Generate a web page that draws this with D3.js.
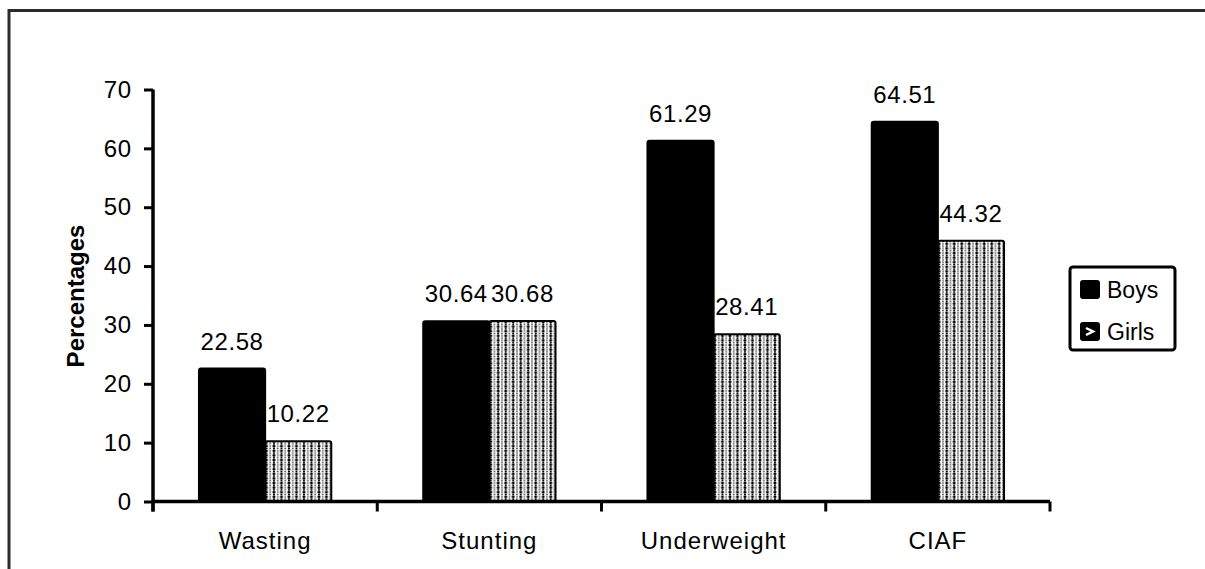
<!DOCTYPE html>
<html>
<head>
<meta charset="utf-8">
<script src="https://cdn.jsdelivr.net/npm/d3@7/dist/d3.min.js"></script>
<style>
  html, body { margin: 0; padding: 0; background: #fff; }
  svg { display: block; }
  text { font-family: "Liberation Sans", Arial, sans-serif; fill: #000; }
</style>
</head>
<body>
<svg id="chart" width="1205" height="569"></svg>
<script>
// Nutritional status by sex (percentages)
const categories = ["Wasting", "Stunting", "Underweight", "CIAF"];
const seriesNames = ["Boys", "Girls"];
const boys = [22.58, 30.64, 61.29, 64.51];
const girls = [10.22, 30.68, 28.41, 44.32];
const yTicks = [0, 10, 20, 30, 40, 50, 60, 70];

const svg = d3.select("#chart");

// dotted fill used for the Girls series
const defs = svg.append("defs");
const pat = defs.append("pattern")
  .attr("id", "dots")
  .attr("patternUnits", "userSpaceOnUse")
  .attr("width", 7.5).attr("height", 4.6);
pat.append("rect").attr("width", 7.5).attr("height", 4.6).attr("fill", "#fff");
[[0, 0], [7.5, 0], [0, 4.6], [7.5, 4.6]].forEach(([cx, cy]) =>
  pat.append("circle").attr("cx", cx).attr("cy", cy).attr("r", 1.5).attr("fill", "#000"));
pat.append("circle").attr("cx", 3.75).attr("cy", 2.3).attr("r", 0.9).attr("fill", "#555");
pat.append("path").attr("d", "M0,2.3 H1 M6.5,2.3 H7.5 M3.75,0 V0.6 M3.75,4 V4.6")
  .attr("stroke", "#000").attr("stroke-width", 1);

// outer frame (top and left edges)
svg.append("path")
  .attr("d", "M9,569 V10.5 H1205")
  .attr("fill", "none").attr("stroke", "#2b2b2b").attr("stroke-width", 3);

const x0 = d3.scaleBand().domain(categories).range([153, 1050])
  .paddingInner(0.41).paddingOuter(0.205);
const x1 = d3.scaleBand().domain(seriesNames).range([0, x0.bandwidth()]);
const y = d3.scaleLinear().domain([0, 70]).range([501.5, 89.5]);

const rows = categories.map((c, i) => ({ cat: c, vals: [
  { name: "Boys", v: boys[i] }, { name: "Girls", v: girls[i] } ] }));

// bars
const groups = svg.append("g").selectAll("g").data(rows).join("g")
  .attr("transform", d => `translate(${x0(d.cat)},0)`);

groups.selectAll("rect").data(d => d.vals).join("rect")
  .attr("x", d => x1(d.name))
  .attr("y", d => y(d.v))
  .attr("width", x1.bandwidth())
  .attr("height", d => y(0) - y(d.v))
  .attr("rx", 2)
  .attr("fill", d => d.name === "Boys" ? "#000" : "url(#dots)")
  .attr("stroke", "#000").attr("stroke-width", 2);

// value labels
groups.selectAll("text").data(d => d.vals).join("text")
  .attr("x", d => x1(d.name) + x1.bandwidth() / 2)
  .attr("y", d => y(d.v) - 19)
  .attr("text-anchor", "middle")
  .attr("font-size", 24)
  .attr("letter-spacing", 0.6)
  .text(d => d.v.toFixed(2));

// y axis
const yAxis = svg.append("g").attr("transform", "translate(153,0)")
  .call(d3.axisLeft(y).tickValues(yTicks).tickSize(9).tickSizeOuter(0).tickPadding(12));
yAxis.select(".domain").attr("stroke", "#000").attr("stroke-width", 3.5)
  .attr("d", `M0,${y(70)}V${y(0) + 10}`);
yAxis.selectAll(".tick line").attr("stroke", "#000").attr("stroke-width", 3);
yAxis.selectAll(".tick text").attr("font-size", 24).attr("letter-spacing", 0.8)
  .attr("font-family", "Liberation Sans, Arial, sans-serif").attr("fill", "#000");

// x axis
const xAxis = svg.append("g").attr("transform", `translate(0,${y(0)})`)
  .call(d3.axisBottom(x0).tickSize(0).tickPadding(30));
xAxis.select(".domain").remove();
xAxis.selectAll(".tick text").attr("font-size", 24).attr("letter-spacing", 1)
  .attr("font-family", "Liberation Sans, Arial, sans-serif").attr("fill", "#000");
xAxis.append("line").attr("x1", 153).attr("x2", 1050).attr("y1", 0).attr("y2", 0)
  .attr("stroke", "#000").attr("stroke-width", 3.5);
const bounds = d3.range(categories.length + 1).map(i => 153 + i * x0.step());
xAxis.selectAll("line.bound").data(bounds).join("line").attr("class", "bound")
  .attr("x1", d => d).attr("x2", d => d).attr("y1", 0).attr("y2", 10)
  .attr("stroke", "#000").attr("stroke-width", 3);

// y axis title
svg.append("text")
  .attr("transform", "translate(84,296) rotate(-90)")
  .attr("text-anchor", "middle")
  .attr("font-size", 24).attr("font-weight", "bold")
  .text("Percentages");

// legend
const lg = svg.append("g");
lg.append("rect").attr("x", 1070).attr("y", 267).attr("width", 105).attr("height", 83)
  .attr("rx", 3).attr("fill", "#fff").attr("stroke", "#000").attr("stroke-width", 3);
seriesNames.forEach((name, i) => {
  const yy = 280 + i * 42;
  lg.append("rect").attr("x", 1080).attr("y", yy).attr("width", 20).attr("height", 19)
    .attr("rx", 3).attr("fill", "#000");
  if (name === "Girls") {
    lg.append("path").attr("d", `M1086,${yy + 6} L1093,${yy + 9.5} L1086,${yy + 13}`)
      .attr("fill", "none").attr("stroke", "#fff").attr("stroke-width", 2.5);
  }
  lg.append("text").attr("x", 1107).attr("y", yy + 18)
    .attr("font-size", 23).text(name);
});
</script>
</body>
</html>
